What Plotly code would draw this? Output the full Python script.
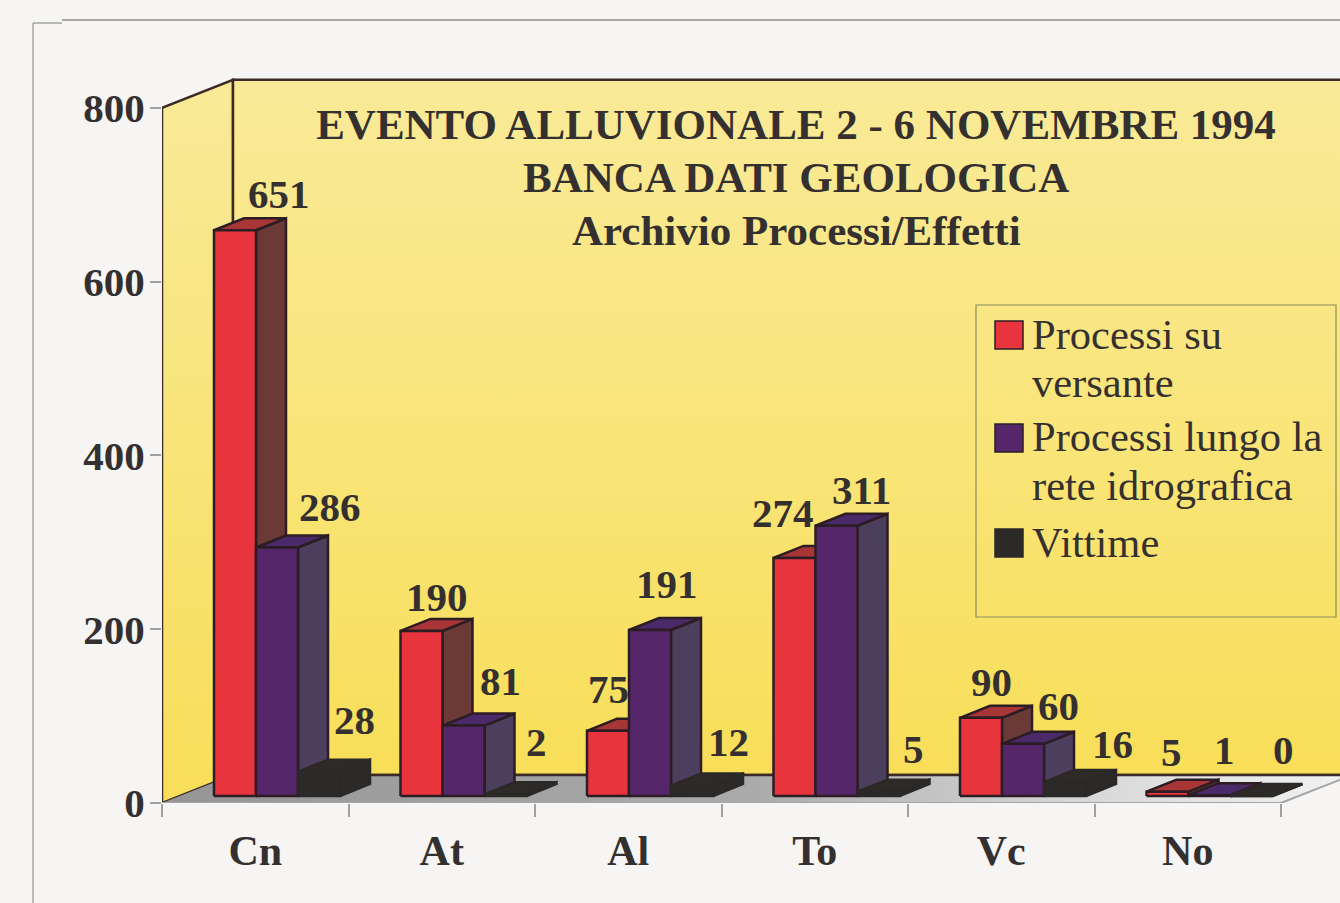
import plotly.graph_objects as go

# ---- data ----
CATEGORIES = ["Cn", "At", "Al", "To", "Vc", "No"]
PROCESSI_VERSANTE = [651, 190, 75, 274, 90, 5]
PROCESSI_RETE = [286, 81, 191, 311, 60, 1]
VITTIME = [28, 2, 12, 5, 16, 0]
SERIES_NAMES = ["Processi su<br>versante", "Processi lungo la<br>rete idrografica", "Vittime"]
Y_TICKS = [0, 200, 400, 600, 800]
TITLE_LINES = ["EVENTO ALLUVIONALE 2 - 6 NOVEMBRE 1994", "BANCA DATI GEOLOGICA", "Archivio Processi/Effetti"]

# ---- geometry / style ----
W, H = 1340, 903
X0_PX, Y0_PX = 162, 803
PX_PER_CAT = 186.5
PX_PER_VAL = 0.869
def cx(px): return px / PX_PER_CAT      # horizontal pixels to category units
def vy(px): return px / PX_PER_VAL      # vertical pixels to value units
def paper_x(px): return (px - X0_PX) / (W - X0_PX)
def paper_y(py): return (Y0_PX - py) / Y0_PX

WALL_DX, WALL_DY = cx(71), vy(28)
BAR_W = cx(42)
BAR_START = cx(52)
BAR_BASE = vy(7)
DEPTH_DX, DEPTH_DY = cx(30), vy(12)
N = len(CATEGORIES)
Y_TOP = Y_TICKS[-1]
INK = "#353030"
STYLES = [
    dict(front="#e8343c", side="#6c3a36", top="#a83636", edge="#2c1c24"),
    dict(front="#55266a", side="#4c3f5e", top="#4a2a68", edge="#2c1c24"),
    dict(front="#2c2a28", side="#2c2a28", top="#2e2a28", edge="#2b2927"),
]
# pixel nudges of each value label from the top of its bar (series x category)
NUDGE = [
    [(29, -24), (0, -22), (-15, -30), (-27, -33), (-5, -24), (-11, -28)],
    [(38, -28), (22, -33), (2, -34), (10, -24), (20, -26), (0, -33)],
    [(20, -40), (16, -40), (21, -32), (20, -31), (32, -26), (17, -34)],
]
BOLD = dict(family="Liberation Serif", color=INK, weight="bold")

fig = go.Figure()

def poly(xs, ys, name="", **kw):
    fig.add_trace(go.Scatter(x=xs, y=ys, mode="lines", fill="toself", name=name,
                             showlegend=False, hoverinfo="skip", cliponaxis=False, **kw))

RIGHT = W / PX_PER_CAT
# side wall
poly([0, WALL_DX, WALL_DX, 0, 0], [0, WALL_DY, Y_TOP + WALL_DY, Y_TOP, 0],
     line=dict(color="#3b2a26", width=2.5),
     fillgradient=dict(type="vertical", colorscale=[[0, "#f8de58"], [1, "#f9ea98"]]))
# back wall
poly([WALL_DX, RIGHT, RIGHT, WALL_DX, WALL_DX],
     [WALL_DY, WALL_DY, Y_TOP + WALL_DY, Y_TOP + WALL_DY, WALL_DY],
     line=dict(color="#3b2a26", width=2.5),
     fillgradient=dict(type="vertical", colorscale=[[0, "#f8de58"], [0.5, "#f9e57a"], [1, "#f9ea98"]]))
# floor
poly([0, N, N + WALL_DX, WALL_DX, 0], [0, 0, WALL_DY, WALL_DY, 0],
     line=dict(color="rgba(0,0,0,0)", width=0),
     fillgradient=dict(type="horizontal",
                       colorscale=[[0, "#959595"], [0.5, "#ababab"], [0.75, "#d4d4d4"], [1, "#f2f2f2"]]))
# floor edges
fig.add_trace(go.Scatter(x=[0, N, N + WALL_DX], y=[0, 0, WALL_DY], mode="lines", showlegend=False,
                         hoverinfo="skip", cliponaxis=False, line=dict(color="#a5a5a5", width=2)))
fig.add_trace(go.Scatter(x=[WALL_DX, RIGHT], y=[WALL_DY, WALL_DY], mode="lines", showlegend=False,
                         hoverinfo="skip", line=dict(color="#3b2a26", width=2.5)))

# bars: side, top, then front face for each series
ALL_SERIES = [PROCESSI_VERSANTE, PROCESSI_RETE, VITTIME]
for s, values in enumerate(ALL_SERIES):
    sx, sy, tx, ty, fx, fy = [], [], [], [], [], []
    for i, v in enumerate(values):
        l = i + BAR_START + s * BAR_W
        r = l + BAR_W
        b = BAR_BASE
        t = BAR_BASE + v
        fx += [l, r, r, l, l, None]
        fy += [b, b, t, t, b, None]
        sx += [r, r + DEPTH_DX, r + DEPTH_DX, r, r, None]
        sy += [b, b + DEPTH_DY, t + DEPTH_DY, t, b, None]
        tx += [l, r, r + DEPTH_DX, l + DEPTH_DX, l, None]
        ty += [t, t, t + DEPTH_DY, t + DEPTH_DY, t, None]
    st = STYLES[s]
    line = dict(color=st["edge"], width=2.5)
    poly(sx, sy, line=line, fillcolor=st["side"])
    poly(tx, ty, line=line, fillcolor=st["top"])
    poly(fx, fy, line=line, fillcolor=st["front"], name=SERIES_NAMES[s].replace("<br>", " "))

annotations = []
# value labels
for s, values in enumerate(ALL_SERIES):
    for i, v in enumerate(values):
        nx, ny = NUDGE[s][i]
        annotations.append(dict(
            x=i + BAR_START + s * BAR_W + BAR_W / 2 + DEPTH_DX / 2,
            y=BAR_BASE + v + DEPTH_DY, xref="x", yref="y",
            text=str(v), showarrow=False, xanchor="center", yanchor="middle",
            xshift=nx, yshift=-ny, font=dict(size=41, **BOLD)))

# remaining title lines
for text, py in zip(TITLE_LINES[1:], [177, 230]):
    annotations.append(dict(x=paper_x(796), y=paper_y(py), xref="paper", yref="paper", text=text,
                            showarrow=False, xanchor="center", yanchor="middle",
                            font=dict(size=43, **BOLD)))

# legend box
LEG_Y = [335, 438, 543]
LEG_H = 48
shapes = [
    dict(type="rect", xref="paper", yref="paper", x0=paper_x(976), x1=paper_x(1336),
         y0=paper_y(305), y1=paper_y(617), line=dict(color="#8c8a60", width=1.2)),
]
for s, py in enumerate(LEG_Y):
    shapes.append(dict(type="rect", xref="paper", yref="paper",
                       x0=paper_x(995), x1=paper_x(1023), y0=paper_y(py - 14), y1=paper_y(py + 14),
                       fillcolor=STYLES[s]["front"], line=dict(color=STYLES[s]["edge"], width=1.5)))
    for k, part in enumerate(SERIES_NAMES[s].split("<br>")):
        annotations.append(dict(x=paper_x(1030), y=paper_y(py - 1 + k * LEG_H), xref="paper", yref="paper",
                                text=part, showarrow=False, xanchor="left", yanchor="middle",
                                font=dict(family="Liberation Serif", size=42.5, color=INK)))

# page frame
shapes += [
    dict(type="line", xref="paper", yref="paper", x0=paper_x(33), x1=paper_x(33), y0=paper_y(23), y1=paper_y(903),
         line=dict(color="#a3a3a3", width=1.5)),
    dict(type="line", xref="paper", yref="paper", x0=paper_x(33), x1=paper_x(62), y0=paper_y(23), y1=paper_y(23),
         line=dict(color="#a3a3a3", width=1.5)),
    dict(type="line", xref="paper", yref="paper", x0=paper_x(62), x1=paper_x(1340), y0=paper_y(20), y1=paper_y(20),
         line=dict(color="#8e8a8a", width=1.5)),
]

fig.update_layout(
    width=W, height=H, autosize=False,
    margin=dict(l=X0_PX, r=0, t=0, b=H - Y0_PX, pad=0),
    paper_bgcolor="#f6f5f4", plot_bgcolor="rgba(0,0,0,0)",
    showlegend=False,
    title=dict(text=TITLE_LINES[0], x=796 / W, xanchor="center", y=1 - 124 / H, yanchor="middle",
               yref="container", font=dict(size=43, **BOLD)),
    xaxis=dict(range=[0, (W - X0_PX) / PX_PER_CAT],
               tickmode="array", tickvals=[i + 0.5 for i in range(N)], ticktext=CATEGORIES,
               ticks="outside", ticklen=11, tickcolor="rgba(0,0,0,0)", showgrid=False, zeroline=False,
               showline=False,
               minor=dict(tickmode="array", tickvals=list(range(N + 1)), ticks="outside", ticklen=13,
                          tickcolor="#a0a0a0", tickwidth=1.5, showgrid=False),
               tickfont=dict(size=42, **BOLD)),
    yaxis=dict(range=[0, Y0_PX / PX_PER_VAL],
               tickmode="array", tickvals=Y_TICKS, ticktext=[str(t) for t in Y_TICKS],
               ticks="outside", ticklen=11, tickcolor="#a0a0a0", tickwidth=1.5,
               ticklabelstandoff=-3,
               showgrid=False, zeroline=False, showline=False,
               tickfont=dict(size=41, **BOLD)),
    annotations=annotations, shapes=shapes,
)
fig.write_html("out.html", config={"displayModeBar": False},
               post_script="document.body.style.margin='0';document.body.style.background='#f6f5f4';document.body.style.overflow='hidden';")
